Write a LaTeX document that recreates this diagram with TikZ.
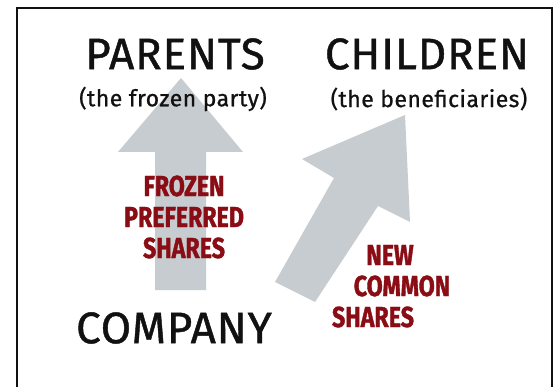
\documentclass[tikz,border=0pt]{standalone}
\usepackage{fontspec}
\setmainfont{Fira Sans}
\newfontfamily\titlefont{Fira Sans}[LetterSpace=2,FakeBold=1]
\newfontfamily\subfont{Fira Sans}[LetterSpace=2,FakeBold=0.8]
\newfontfamily\redfont{Fira Sans}[FakeStretch=0.8,FakeBold=1.2]
\definecolor{arrowgray}{HTML}{C6CCCF}
\definecolor{darkred}{HTML}{8A0C14}
\definecolor{inkblack}{HTML}{111111}
\begin{document}
\begin{tikzpicture}[x=1pt,y=-1pt,
  title/.style={inner sep=0pt,text=inkblack,font=\titlefont\fontsize{44}{44}\selectfont},
  subtitle/.style={inner sep=0pt,text=inkblack,font=\subfont\fontsize{23}{23}\selectfont},
  redtext/.style={inner sep=0pt,text=darkred,font=\redfont\bfseries\fontsize{29}{31}\selectfont,align=center},
  blockarrow/.style={fill=arrowgray,draw=none}]
\useasboundingbox (0,0) rectangle (559,387);
\fill[white] (0,0) rectangle (559,387);
\draw[line width=2pt,inkblack] (17,392) -- (17,8) -- (552,8) -- (552,392);
% vertical block arrow
\coordinate (vtip) at (181,78);
\fill[blockarrow] (vtip) -- (243,152) -- (206,152) -- (206,290) -- (155,290) -- (155,152) -- (118,152) -- cycle;
% diagonal block arrow
\coordinate (dtip) at (405,115);
\fill[blockarrow] (dtip) -- (410,222) -- (378,206) -- (315,302) -- (275,282) -- (334,178) -- (302,159) -- cycle;
\node[title] (parents) at (175,54) {PARENTS};
\node[subtitle] (parentsub) at (173,99) {(the frozen party)};
\node[title] (children) at (427,54) {CHILDREN};
\node[subtitle] (childsub) at (429,99) {(the beneficiaries)};
\node[title] (company) at (174,328) {COMPANY};
\node[redtext] (frozen) at (184,217) {FROZEN\\PREFERRED\\SHARES};
\node[redtext] (new) at (390,255) {NEW};
\node[redtext] (common) at (402,286) {COMMON};
\node[redtext] (shares) at (373,317) {SHARES};
\end{tikzpicture}
\end{document}
